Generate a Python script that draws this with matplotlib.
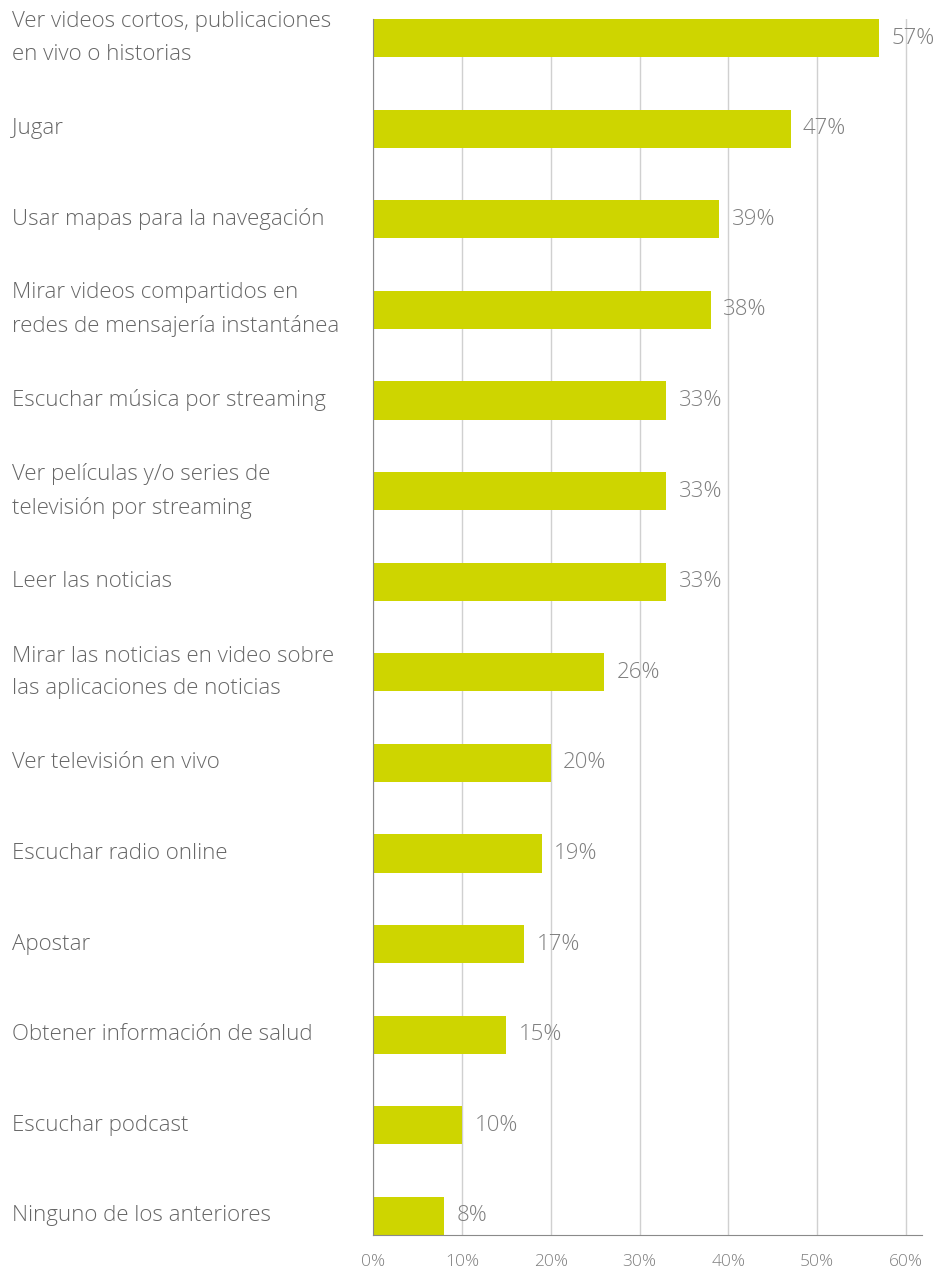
import matplotlib
matplotlib.use("Agg")
import matplotlib.pyplot as plt
from matplotlib.ticker import FuncFormatter

categories = [
    "Ver videos cortos, publicaciones\nen vivo o historias",
    "Jugar",
    "Usar mapas para la navegación",
    "Mirar videos compartidos en\nredes de mensajería instantánea",
    "Escuchar música por streaming",
    "Ver películas y/o series de\ntelevisión por streaming",
    "Leer las noticias",
    "Mirar las noticias en video sobre\nlas aplicaciones de noticias",
    "Ver televisión en vivo",
    "Escuchar radio online",
    "Apostar",
    "Obtener información de salud",
    "Escuchar podcast",
    "Ninguno de los anteriores",
]
values = [57, 47, 39, 38, 33, 33, 33, 26, 20, 19, 17, 15, 10, 8]
tick_values = [0, 10, 20, 30, 40, 50, 60]

BAR_COLOR = "#CED500"
TEXT_COLOR = "#666666"
VALUE_COLOR = "#7f7f7f"
GRID_COLOR = "#d0d0d0"

plt.rcParams["font.family"] = ["Open Sans", "DejaVu Sans"]

W, H = 952, 1270
fig = plt.figure(figsize=(W / 100, H / 100), dpi=100)
left, right = 373 / W, 922 / W
top, bottom = 19 / H, 1235 / H
ax = fig.add_axes([left, 1 - bottom, right - left, bottom - top])

n = len(categories)
ypos = list(range(n))
bar_h = 0.42
ax.barh(ypos, values, height=bar_h, color=BAR_COLOR, zorder=2)
ax.set_ylim(n - 1 + bar_h / 2, -bar_h / 2)
ax.set_xlim(0, 61.8)

ax.set_xticks(tick_values)
ax.xaxis.set_major_formatter(FuncFormatter(lambda v, p: f"{v:.0f}%"))
ax.tick_params(axis="x", length=0, pad=14, labelsize=12.5, labelcolor=VALUE_COLOR)
ax.set_yticks([])
ax.grid(axis="x", color=GRID_COLOR, linewidth=1.0, zorder=1)
ax.set_axisbelow(True)

for side in ("top", "right"):
    ax.spines[side].set_visible(False)
ax.spines["left"].set_color("#8a8a8a")
ax.spines["bottom"].set_color("#8a8a8a")
ax.spines["left"].set_zorder(3)

for lbl in ax.get_xticklabels():
    lbl.set_fontweight("light")

for y, v, c in zip(ypos, values, categories):
    ax.annotate(f"{v}%", xy=(v, y), xytext=(9, 0), textcoords="offset points",
                ha="left", va="center", fontsize=16, color=VALUE_COLOR,
                fontweight="light", zorder=4)
    ax.annotate(c, xy=(0, y), xycoords=("figure fraction", "data"),
                xytext=(8.6, 0), textcoords="offset points",
                ha="left", va="center", fontsize=16, color=TEXT_COLOR,
                fontweight="light", linespacing=1.72, annotation_clip=False)

fig.savefig("out.png", dpi=100)
